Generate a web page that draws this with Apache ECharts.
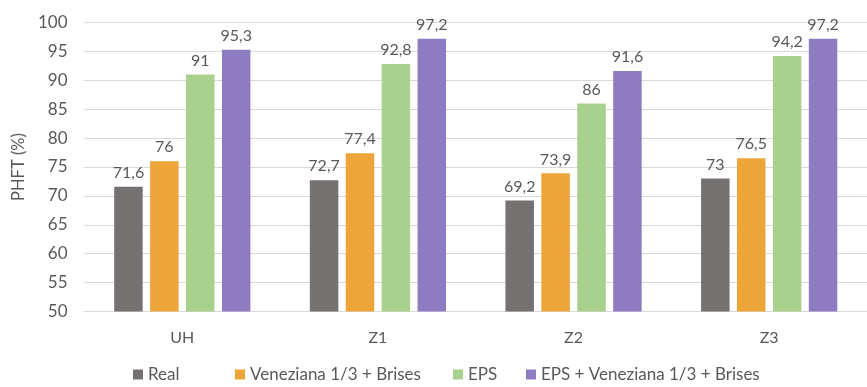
<!DOCTYPE html>
<html>
<head>
<meta charset="utf-8">
<script src="https://cdn.jsdelivr.net/npm/echarts@6/dist/echarts.min.js"></script>
<style>
  html, body { margin: 0; padding: 0; background: #fff; }
  #chart { width: 867px; height: 387px; }
</style>
</head>
<body>
<div id="chart"></div>
<script>
// Categories and series values (PHFT, %)
const categories = ['UH', 'Z1', 'Z2', 'Z3'];
const seriesNames = ['Real', 'Veneziana 1/3 + Brises', 'EPS', 'EPS + Veneziana 1/3 + Brises'];
const realValues = [71.6, 72.7, 69.2, 73];
const venezianaValues = [76, 77.4, 73.9, 76.5];
const epsValues = [91, 92.8, 86, 94.2];
const epsVenezianaValues = [95.3, 97.2, 91.6, 97.2];
const yTicks = [50, 55, 60, 65, 70, 75, 80, 85, 90, 95, 100];

const colors = ['#767171', '#EDA53A', '#A9D18E', '#8E7CC3'];
const textColor = '#595959';
const fontFamily = 'Lato, "Open Sans", sans-serif';

const valueSets = [realValues, venezianaValues, epsValues, epsVenezianaValues];

// Legend entries are laid out one per legend component so each sits in its own slot
const legendLefts = [133, 235, 453, 526];

const chart = echarts.init(document.getElementById('chart'), null, { renderer: 'canvas' });

chart.setOption({
  animation: false,
  textStyle: { fontFamily: fontFamily },
  grid: { left: 84.5, top: 22.5, width: 794, height: 289, containLabel: false },
  legend: seriesNames.map((name, i) => ({
    top: 366,
    left: legendLefts[i],
    padding: 0,
    itemWidth: 10,
    itemHeight: 10,
    icon: 'rect',
    textStyle: { color: textColor, fontSize: 17, fontFamily: fontFamily },
    data: [name]
  })),
  xAxis: {
    type: 'category',
    data: categories,
    axisLine: { lineStyle: { color: '#d9d9d9', width: 1 } },
    axisTick: { show: false },
    axisLabel: { color: textColor, fontSize: 16, margin: 18 }
  },
  yAxis: {
    type: 'value',
    min: yTicks[0],
    max: yTicks[yTicks.length - 1],
    interval: yTicks[1] - yTicks[0],
    name: 'PHFT (%)',
    nameLocation: 'middle',
    nameGap: 56,
    nameTextStyle: { color: textColor, fontSize: 16.5 },
    axisLine: { show: false },
    axisTick: { show: false },
    axisLabel: { color: textColor, fontSize: 17, margin: 17 },
    splitLine: { lineStyle: { color: '#d9d9d9', width: 1 } }
  },
  series: seriesNames.map((name, i) => ({
    name: name,
    type: 'bar',
    data: valueSets[i],
    barWidth: 28.5,
    barGap: '26%',
    itemStyle: { color: colors[i] },
    label: {
      show: true,
      position: 'top',
      distance: 6,
      color: textColor,
      fontSize: 16,
      formatter: p => String(p.value).replace('.', ',')
    }
  }))
});
</script>
</body>
</html>
